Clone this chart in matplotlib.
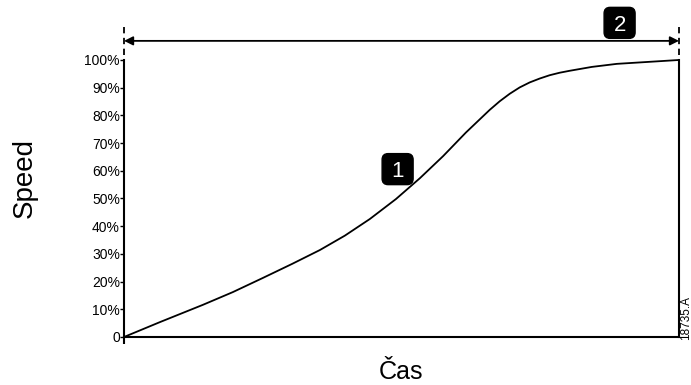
import matplotlib
matplotlib.use("Agg")
import matplotlib.pyplot as plt
from matplotlib.patches import FancyBboxPatch

plt.rcParams['font.family'] = ['Liberation Sans', 'DejaVu Sans']

# krivka rychlosti (cas v %, rychlost v %)
time_pct = [0, 6.5, 14.2, 19.6, 25.0, 30.3, 35.3, 39.8, 44.3, 49.0, 53.3, 57.5, 61.6, 65.9,
            67.7, 69.5, 71.3, 73.1, 74.9, 76.7, 78.5, 80.3, 84.3, 88.8, 94.4, 100]
speed_pct = [0, 5.4, 11.6, 16.2, 21.3, 26.4, 31.4, 36.6, 42.6, 49.8, 57.3, 65.3, 73.8, 82.0,
             85.1, 87.8, 90.1, 91.9, 93.3, 94.5, 95.4, 96.1, 97.5, 98.6, 99.3, 100]
ytick_vals = [0, 10, 20, 30, 40, 50, 60, 70, 80, 90, 100]
ytick_labels = ["0", "10%", "20%", "30%", "40%", "50%", "60%", "70%", "80%", "90%", "100%"]

fig = plt.figure(figsize=(6.91, 3.85), dpi=100)
ax = fig.add_axes([0.1795, 0.1247, 0.8031, 0.7195])

ax.plot(time_pct, speed_pct, color="black", lw=1.3, clip_on=False,
        solid_joinstyle="round")
ax.set_xlim(0, 100)
ax.set_ylim(0, 100)

ax.spines["top"].set_visible(False)
for s in ["left", "bottom", "right"]:
    ax.spines[s].set_linewidth(1.5)

ax.set_yticks(ytick_vals)
ax.set_yticklabels(ytick_labels, fontsize=10)
ax.tick_params(axis="y", length=3, width=1, pad=0)
ax.set_xticks([0])
ax.set_xticklabels([""])
ax.tick_params(axis="x", length=5, width=1.5)

fig.text(25 / 691, 1 - 178 / 385, "Speed", fontsize=20, rotation=90,
         ha="center", va="center")
fig.text(0.581, 0.016, "Čas", fontsize=18, ha="center", va="baseline")

# sipka nahore
ax.annotate("", xy=(0, 106.9), xytext=(100, 106.9),
            arrowprops=dict(arrowstyle="<|-|>", color="black", lw=1.3,
                            mutation_scale=13, shrinkA=0, shrinkB=0),
            annotation_clip=False)
for xv in [0, 100]:
    ax.plot([xv, xv], [101.8, 112], color="black", lw=1.3,
            linestyle=(0, (3.5, 2.5)), clip_on=False)

# cislovane stitky
fig.canvas.draw()
for label, xd, yd in [("1", 49.3, 60.6), ("2", 89.3, 113.4)]:
    cx, cy = ax.transData.transform((xd, yd))
    patch = FancyBboxPatch((cx - 12.5, cy - 12.5), 25, 25,
                           boxstyle="round,pad=3,rounding_size=6",
                           fc="black", ec="black", transform=None, clip_on=False)
    fig.patches.append(patch)
    fig.text(cx / 691, cy / 385, label, color="white", fontsize=16,
             ha="center", va="center_baseline")

fig.text(0.9935, 0.1753, "18735.A", rotation=90, fontsize=8.5, ha="center", va="center")

fig.savefig("out.png", dpi=100)
